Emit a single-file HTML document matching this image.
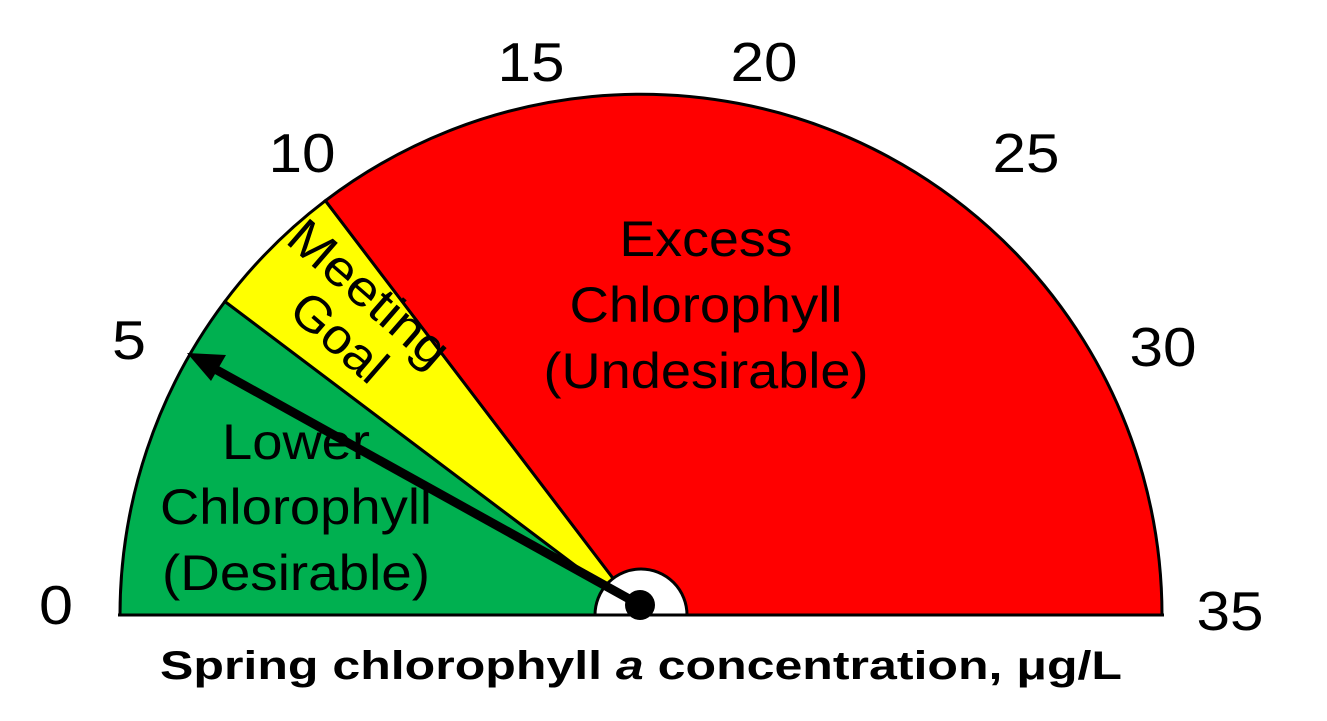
<!DOCTYPE html>
<html><head><meta charset="utf-8"><style>
html,body{margin:0;padding:0;background:#fff;}
svg{display:block;font-family:"Liberation Sans",Arial,sans-serif;}
</style></head><body>
<svg width="1327" height="721" viewBox="0 0 1327 721" xmlns="http://www.w3.org/2000/svg">
<rect width="1327" height="721" fill="#fff"/>
<path d="M641,615 L120,615 A521,521 0 0 1 224.9,301.5 Z" fill="#00b050" stroke="#000" stroke-width="3"/>
<path d="M641,615 L224.9,301.5 A521,521 0 0 1 325.4,200.7 Z" fill="#ffff00" stroke="#000" stroke-width="3"/>
<path d="M641,615 L325.4,200.7 A521,521 0 0 1 1162,615 Z" fill="#ff0000" stroke="#000" stroke-width="3"/>
<path d="M595,615 A46,46 0 0 1 687,615 Z" fill="#fff" stroke="#000" stroke-width="3"/>
<line x1="118" y1="615" x2="1164" y2="615" stroke="#000" stroke-width="3"/>
<g font-size="55" fill="#000" text-anchor="middle">
<text x="56" y="624" textLength="34" lengthAdjust="spacingAndGlyphs">0</text>
<text x="129" y="359" textLength="34" lengthAdjust="spacingAndGlyphs">5</text>
<text x="302" y="172" textLength="67" lengthAdjust="spacingAndGlyphs">10</text>
<text x="531" y="81" textLength="67" lengthAdjust="spacingAndGlyphs">15</text>
<text x="764" y="81" textLength="67" lengthAdjust="spacingAndGlyphs">20</text>
<text x="1026" y="172" textLength="67" lengthAdjust="spacingAndGlyphs">25</text>
<text x="1163" y="366" textLength="67" lengthAdjust="spacingAndGlyphs">30</text>
<text x="1230" y="630" textLength="67" lengthAdjust="spacingAndGlyphs">35</text>
</g>
<g font-size="50" fill="#000" text-anchor="middle" lengthAdjust="spacingAndGlyphs">
<text x="706" y="256" textLength="173" lengthAdjust="spacingAndGlyphs">Excess</text>
<text x="706" y="322" textLength="273" lengthAdjust="spacingAndGlyphs">Chlorophyll</text>
<text x="706" y="388" textLength="325" lengthAdjust="spacingAndGlyphs">(Undesirable)</text>
<text x="296" y="459" textLength="148" lengthAdjust="spacingAndGlyphs">Lower</text>
<text x="296" y="524" textLength="272" lengthAdjust="spacingAndGlyphs">Chlorophyll</text>
<text x="296" y="590" textLength="268" lengthAdjust="spacingAndGlyphs">(Desirable)</text>
<text transform="translate(358,306) rotate(41)" textLength="196" lengthAdjust="spacingAndGlyphs">Meeting</text>
<text transform="translate(328,350) rotate(41)" textLength="110" lengthAdjust="spacingAndGlyphs">Goal</text>
</g>
<line x1="640" y1="605" x2="215" y2="369" stroke="#000" stroke-width="9"/>
<polygon points="187,353 226,355 211,381" fill="#000"/>
<circle cx="640" cy="605" r="15" fill="#000"/>
<text x="641" y="679" font-size="40" font-weight="bold" text-anchor="middle" textLength="962" lengthAdjust="spacingAndGlyphs">Spring chlorophyll <tspan font-style="italic">a</tspan> concentration, μg/L</text>
</svg>
</body></html>
